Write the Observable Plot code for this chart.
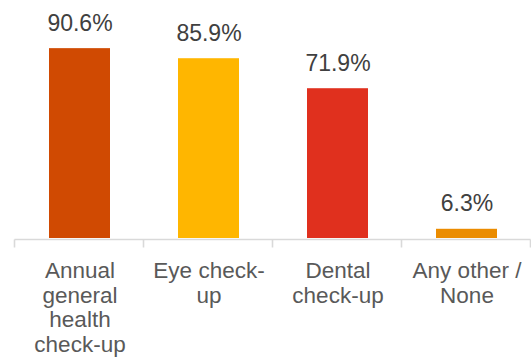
<!DOCTYPE html>
<html>
<head>
<meta charset="utf-8">
<script src="https://cdn.jsdelivr.net/npm/d3@7"></script>
<script src="https://cdn.jsdelivr.net/npm/@observablehq/plot@0.6"></script>
<style>
  html, body { margin: 0; padding: 0; background: #fff; }
  #chart { width: 531px; height: 361px; overflow: hidden; }
</style>
</head>
<body>
<div id="chart"></div>
<script>
// Data
const categories = [
  "Annual\ngeneral\nhealth\ncheck-up",
  "Eye check-\nup",
  "Dental\ncheck-up",
  "Any other /\nNone"
];
const values = [90.6, 85.9, 71.9, 6.3];
const colors = ["#D04A02", "#FFB600", "#E0301E", "#EB8C00"];
const valueLabels = ["90.6%", "85.9%", "71.9%", "6.3%"];
const yMin = 2, yMax = 100;

const data = categories.map((c, i) => ({category: c, value: values[i], color: colors[i], label: valueLabels[i]}));

const axisColor = "#D9D9D9";

function categoryAxis(...args) {
  // Support both (index, scales, values, dimensions, context) and (scales, dimensions)
  let scales, dimensions;
  if (args[0] && typeof args[0].x === "function") { scales = args[0]; dimensions = args[1]; }
  else { scales = args[1]; dimensions = args[3]; }
  const x = scales.x, y = scales.y;
  const step = x(categories[1]) - x(categories[0]);
  const left = dimensions.marginLeft;
  const base = y(yMin) + 1.5;
  const g = d3.create("svg:g");
  const bounds = d3.range(categories.length + 1).map(i => left + i * step);
  g.append("line")
    .attr("x1", bounds[0]).attr("x2", bounds[bounds.length - 1])
    .attr("y1", base).attr("y2", base)
    .attr("stroke", axisColor).attr("stroke-width", 1.6);
  g.selectAll("line.tk").data(bounds).join("line")
    .attr("class", "tk")
    .attr("x1", d => d).attr("x2", d => d)
    .attr("y1", base).attr("y2", base + 8)
    .attr("stroke", axisColor).attr("stroke-width", 1.6);
  return g.node();
}

const chart = Plot.plot({
  width: 531,
  height: 361,
  marginLeft: 14.5,
  marginRight: 0,
  marginTop: 28,
  marginBottom: 123,
  style: {fontFamily: "'Liberation Sans', Arial, sans-serif", background: "#fff"},
  x: {domain: categories, paddingInner: 0.528, paddingOuter: 0.264, axis: null},
  y: {domain: [yMin, yMax], axis: null},
  marks: [
    Plot.barY(data, {x: "category", y1: yMin, y2: "value", fill: "color"}),
    Plot.text(data, {x: "category", y: "value", text: "label", dy: -18, lineAnchor: "bottom",
      fontSize: 23, fill: "#404040"}),
    Plot.axisX({tickSize: 0, tickPadding: 22.5, fontSize: 22.5, lineHeight: 1.09, color: "#595959", label: null}),
    categoryAxis
  ]
});
document.getElementById("chart").appendChild(chart);
</script>
</body>
</html>
